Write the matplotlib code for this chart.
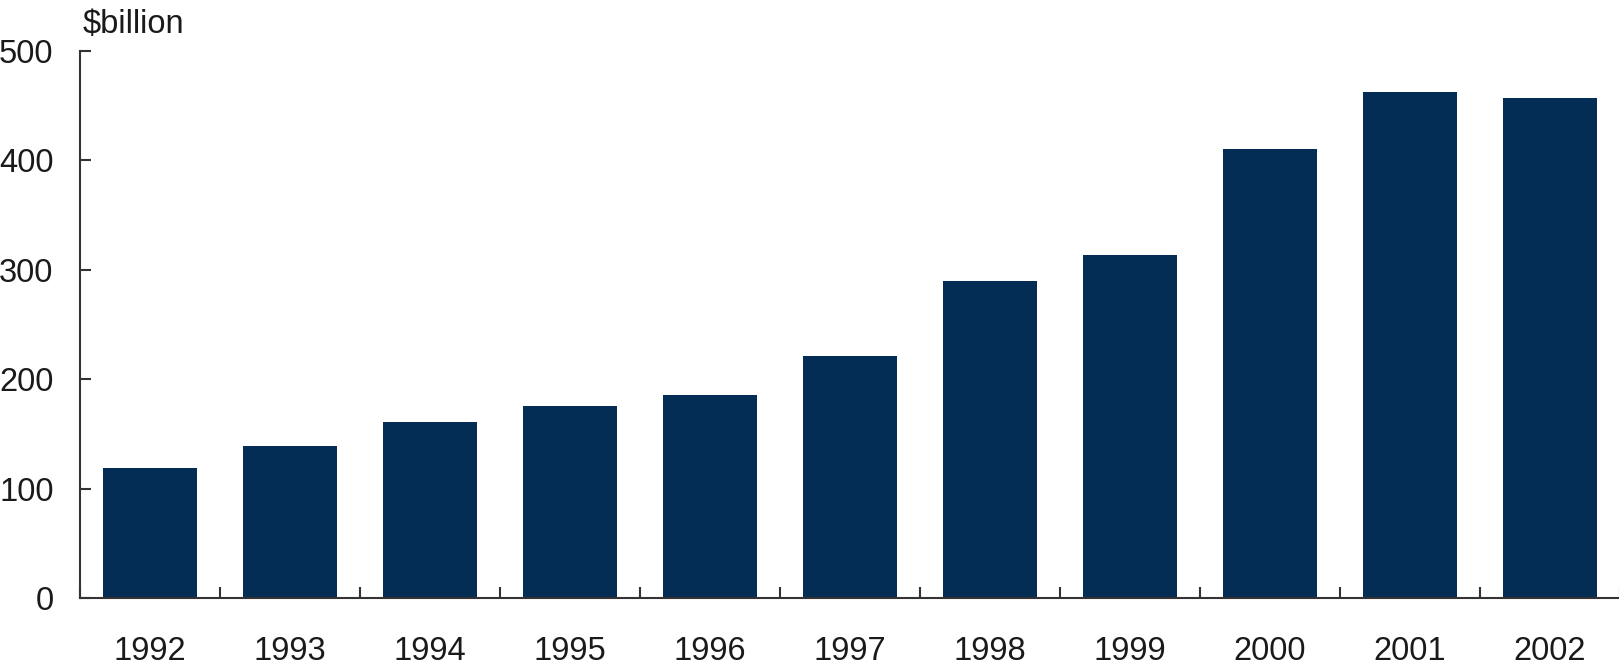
import matplotlib
matplotlib.use("Agg")
import matplotlib.pyplot as plt
import numpy as np

years = ["1992", "1993", "1994", "1995", "1996", "1997", "1998", "1999", "2000", "2001", "2002"]
values = [119, 138.5, 160.5, 175, 185.5, 221, 290, 313, 410, 462, 457]
y_ticks = [0, 100, 200, 300, 400, 500]
unit_label = "$billion"

plt.rcParams['font.family'] = ['Liberation Sans', 'DejaVu Sans']

W, H = 1619, 669
fig = plt.figure(figsize=(W / 100, H / 100), dpi=100)
ax = fig.add_axes([80 / W, 1 - 598 / H, (1620 - 80) / W, (598 - 50.7) / H])

x = np.arange(len(years))
ax.bar(x, values, width=0.67, color='#032d55', zorder=2)

ax.set_xlim(-0.5, len(years) - 0.5)
ax.set_ylim(0, 500)

ax.spines['top'].set_visible(False)
ax.spines['right'].set_visible(False)
for s in ('left', 'bottom'):
    ax.spines[s].set_color('#333333')
    ax.spines[s].set_linewidth(1.5)
    ax.spines[s].set_zorder(3)

fs = 23.5
ax.set_yticks(y_ticks)
ax.set_yticklabels([str(v) for v in y_ticks])
ax.tick_params(axis='y', direction='in', length=8, width=1.5, color='#333333',
               labelsize=fs, pad=19, labelcolor='#1a1a1a')

ax.set_xticks(x)
ax.set_xticklabels(years)
ax.set_xticks(np.arange(-0.5, len(years) + 0.5, 1), minor=True)
ax.tick_params(axis='x', which='major', length=0, labelsize=fs, pad=27, labelcolor='#1a1a1a')
ax.tick_params(axis='x', which='minor', direction='in', length=8, width=1.5, color='#333333')

fig.text(83 / W, 1 - 33 / H, unit_label, fontsize=fs, ha='left', va='baseline', color='#1a1a1a')

fig.savefig("out.png", dpi=100)
